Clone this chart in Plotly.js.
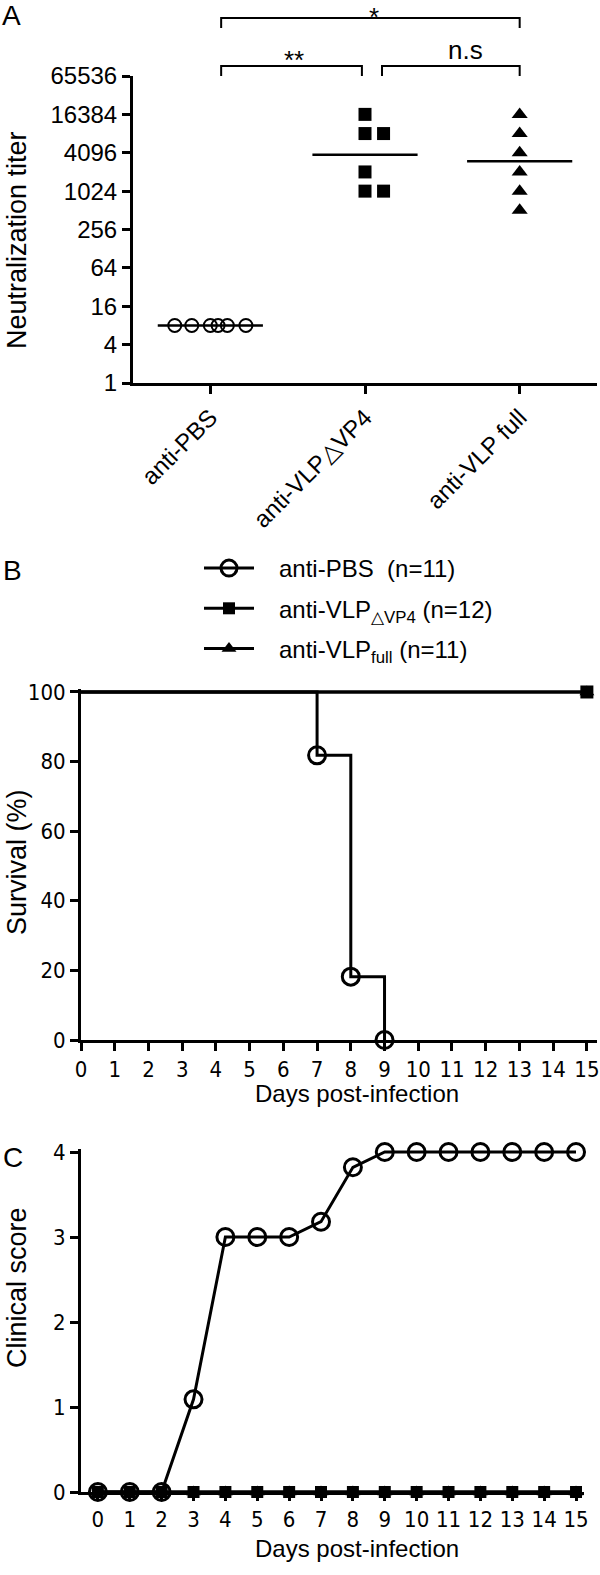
<!DOCTYPE html>
<html>
<head>
<meta charset="utf-8">
<script src="https://cdn.plot.ly/plotly-3.0.1.min.js"></script>
<style>
html, body { margin: 0; padding: 0; background: #fff; }
#chart { width: 600px; height: 1575px; }
</style>
</head>
<body>
<div id="chart"></div>
<script>
// ---- Panel A: neutralization titers ----
const groupLabels = ['anti-PBS', 'anti-VLP\u25B3VP4', 'anti-VLP full'];
const pbsTiters = [8, 8, 8, 8, 8, 8];
const pbsOffsets = [-0.23, -0.12, 0, 0.05, 0.11, 0.23];
const dvp4Titers = [16384, 8192, 8192, 2048, 1024, 1024];
const dvp4Offsets = [0, 0, 0.12, 0, 0, 0.12];
const fullTiters = [16384, 8192, 4096, 2048, 1024, 512];
const fullOffsets = [0, 0, 0, 0, 0, 0];
const meanTiters = [8, 3800, 3000];
const titerTicks = [1, 4, 16, 64, 256, 1024, 4096, 16384, 65536];

// ---- Panel B: survival ----
const survDays = [0, 7, 8, 9];
const survPbs = [100, 81.8, 18.2, 0];
const survVlpDays = [0, 15];
const survVlp = [100, 100];
const survTicks = [0, 20, 40, 60, 80, 100];

// ---- Panel C: clinical score ----
const days = [0, 1, 2, 3, 4, 5, 6, 7, 8, 9, 10, 11, 12, 13, 14, 15];
const scorePbs = [0, 0, 0, 1.09, 3, 3, 3, 3.18, 3.82, 4, 4, 4, 4, 4, 4, 4];
const scoreDvp4 = [0, 0, 0, 0, 0, 0, 0, 0, 0, 0, 0, 0, 0, 0, 0, 0];
const scoreFull = [0, 0, 0, 0, 0, 0, 0, 0, 0, 0, 0, 0, 0, 0, 0, 0];
const scoreTicks = [0, 1, 2, 3, 4];

const W = 600, H = 1575;
const px = v => v / W;
const py = v => 1 - v / H;

const FONT = 'Liberation Sans, Arial, sans-serif';
const NARROW = 'Liberation Sans Narrow, Arial Narrow, DejaVu Sans Condensed, sans-serif';
const NBSP = '\u00a0';
const PAD = NBSP + NBSP + NBSP;

function dotTrace(values, offsets, group, marker) {
    return {
        x: values.map((v, i) => group + offsets[i]),
        y: values,
        xaxis: 'x', yaxis: 'y',
        mode: 'markers', type: 'scatter',
        marker: marker,
        cliponaxis: false, showlegend: false, hoverinfo: 'skip'
    };
}

function meanLine(group) {
    return {
        x: [group - 0.34, group + 0.34],
        y: [meanTiters[group], meanTiters[group]],
        xaxis: 'x', yaxis: 'y',
        mode: 'lines', type: 'scatter',
        line: { color: '#000', width: 2.5 },
        showlegend: false, hoverinfo: 'skip'
    };
}

const openCircle = { symbol: 'circle-open', size: 17, color: '#000', line: { color: '#000', width: 3 } };
const squareMk = { symbol: 'square', size: 12, color: '#000' };
const triMk = { symbol: 'triangle-up', size: 13, color: '#000' };

const traces = [
    // A
    meanLine(0), meanLine(1), meanLine(2),
    dotTrace(pbsTiters, pbsOffsets, 0, { symbol: 'circle-open', size: 13, color: '#000', line: { color: '#000', width: 2 } }),
    dotTrace(dvp4Titers, dvp4Offsets, 1, { symbol: 'square', size: 13, color: '#000' }),
    dotTrace(fullTiters, fullOffsets, 2, { symbol: 'triangle-up', size: 14, color: '#000' }),
    // B
    {
        x: survDays, y: survPbs, xaxis: 'x2', yaxis: 'y2',
        mode: 'lines', line: { color: '#000', width: 3, shape: 'hv' },
        showlegend: false, hoverinfo: 'skip'
    },
    {
        x: survDays.slice(1), y: survPbs.slice(1), xaxis: 'x2', yaxis: 'y2',
        mode: 'markers', marker: openCircle, cliponaxis: false,
        showlegend: false, hoverinfo: 'skip'
    },
    {
        x: survVlpDays, y: survVlp, xaxis: 'x2', yaxis: 'y2',
        mode: 'lines', line: { color: '#000', width: 3.5 },
        showlegend: false, hoverinfo: 'skip'
    },
    {
        x: survVlpDays.slice(1), y: survVlp.slice(1), xaxis: 'x2', yaxis: 'y2',
        mode: 'markers', marker: triMk, cliponaxis: false,
        showlegend: false, hoverinfo: 'skip'
    },
    {
        x: survVlpDays.slice(1), y: survVlp.slice(1), xaxis: 'x2', yaxis: 'y2',
        mode: 'markers', marker: { symbol: 'square', size: 13, color: '#000' }, cliponaxis: false,
        showlegend: false, hoverinfo: 'skip'
    },
    // C (these also carry the legend shown above panel B)
    {
        x: days, y: scorePbs, xaxis: 'x3', yaxis: 'y3',
        name: PAD + 'anti-PBS' + NBSP + NBSP + '(n=11)', legendrank: 1, legendgroup: 'g1',
        mode: 'lines+markers', line: { color: '#000', width: 3 },
        marker: openCircle, cliponaxis: false, hoverinfo: 'skip'
    },
    {
        x: days, y: scoreFull, xaxis: 'x3', yaxis: 'y3',
        name: PAD + 'anti-VLP<sub>full</sub>' + NBSP + '(n=11)', legendrank: 3, legendgroup: 'g3',
        mode: 'lines+markers', line: { color: '#000', width: 3 },
        marker: triMk, cliponaxis: false, hoverinfo: 'skip'
    },
    {
        x: days, y: scoreDvp4, xaxis: 'x3', yaxis: 'y3',
        name: PAD + 'anti-VLP<sub>\u25B3VP4</sub>' + NBSP + '(n=12)', legendrank: 2, legendgroup: 'g2',
        mode: 'lines+markers', line: { color: '#000', width: 3 },
        marker: squareMk, cliponaxis: false, hoverinfo: 'skip'
    }
];

const axisBase = {
    showline: true, linecolor: '#000', linewidth: 3,
    ticks: 'outside', ticklen: 8, tickwidth: 3, tickcolor: '#000',
    showgrid: false, zeroline: false, fixedrange: true,
    ticklabeloverflow: 'allow'
};

function bracket(x0, x1, yTop, yBottom) {
    return {
        type: 'path', xref: 'x', yref: 'paper',
        path: `M ${x0},${py(yBottom)} L ${x0},${py(yTop)} L ${x1},${py(yTop)} L ${x1},${py(yBottom)}`,
        line: { color: '#000', width: 2 }
    };
}

function label(text, x, y, size, extra) {
    return Object.assign({
        text: text, xref: 'paper', yref: 'paper', x: px(x), y: py(y),
        showarrow: false, font: { family: FONT, size: size, color: '#000' },
        xanchor: 'center', yanchor: 'middle'
    }, extra || {});
}

const layout = {
    width: W, height: H,
    margin: { l: 0, r: 0, t: 0, b: 0 },
    paper_bgcolor: '#fff', plot_bgcolor: '#fff',
    font: { family: FONT, color: '#000' },
    showlegend: true,
    legend: {
        x: px(199), y: py(546), xanchor: 'left', yanchor: 'top',
        font: { family: FONT, size: 24, color: '#000' },
        itemwidth: 50, tracegroupgap: 6, traceorder: 'grouped',
        bgcolor: 'rgba(0,0,0,0)', borderwidth: 0
    },
    xaxis: Object.assign({}, axisBase, {
        domain: [px(133), px(597)], range: [-0.5, 2.5],
        tickvals: [0, 1, 2], ticktext: groupLabels, tickangle: -45,
        tickfont: { family: FONT, size: 24, color: '#000' }, anchor: 'y'
    }),
    yaxis: Object.assign({}, axisBase, {
        domain: [py(383), py(76)], type: 'log', range: [0, Math.log10(65536)],
        tickvals: titerTicks, ticktext: titerTicks.map(String),
        tickfont: { family: FONT, size: 24, color: '#000' }, anchor: 'x'
    }),
    xaxis2: Object.assign({}, axisBase, {
        domain: [px(81), px(597)], range: [0, 15.3],
        tickvals: days, tickfont: { family: NARROW, size: 22, color: '#000' }, anchor: 'y2'
    }),
    yaxis2: Object.assign({}, axisBase, {
        domain: [py(1040), py(688.5)], range: [0, 101],
        tickvals: survTicks, tickfont: { family: NARROW, size: 22, color: '#000' }, anchor: 'x2'
    }),
    xaxis3: Object.assign({}, axisBase, {
        domain: [px(81), px(584)], range: [-0.53, 15.25], ticklen: 6,
        tickvals: days, tickfont: { family: NARROW, size: 22, color: '#000' }, anchor: 'y3'
    }),
    yaxis3: Object.assign({}, axisBase, {
        domain: [py(1492), py(1148.6)], range: [0, 4.04],
        tickvals: scoreTicks, tickfont: { family: NARROW, size: 22, color: '#000' }, anchor: 'x3'
    }),
    shapes: [
        bracket(0.07, 2.0, 18, 28),
        bracket(0.07, 0.98, 66, 76),
        bracket(1.11, 2.0, 66, 76)
    ],
    annotations: [
        label('A', 11, 16, 28),
        label('B', 12, 570, 28),
        label('C', 13, 1157, 28),
        label('*', 374, 0, 26, { yanchor: 'top' }),
        label('**', 294, 60, 26),
        label('n.s', 465, 50, 26),
        label('Neutralization titer', 0, 240, 27, { textangle: -90, xanchor: 'left' }),
        label('Survival (%)', 0, 862, 27, { textangle: -90, xanchor: 'left' }),
        label('Clinical score', 0, 1288, 27, { textangle: -90, xanchor: 'left' }),
        label('Days post-infection', 357, 1093, 24),
        label('Days post-infection', 357, 1548, 24)
    ]
};

Plotly.newPlot('chart', traces, layout, { staticPlot: true })
    .catch((error) => {
        console.error('Error rendering plot:', error);
    });
</script>
</body>
</html>
